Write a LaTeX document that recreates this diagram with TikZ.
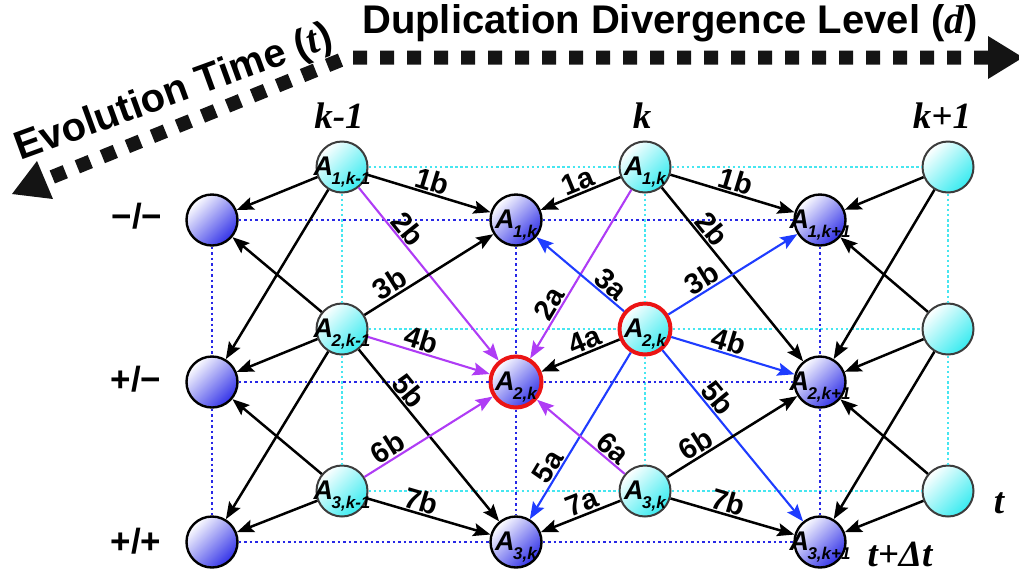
\documentclass[tikz,border=0pt]{standalone}
\usepackage{fontspec}
\setmainfont{Liberation Serif}
\setsansfont{Liberation Sans}
\usetikzlibrary{arrows.meta}
\definecolor{cyanend}{RGB}{55,235,240}
\definecolor{blueend}{RGB}{50,50,232}
\definecolor{cdotc}{RGB}{70,230,240}
\definecolor{bdotc}{RGB}{40,40,230}
\definecolor{purp}{RGB}{175,60,245}
\definecolor{eblue}{RGB}{30,60,255}
\definecolor{ringred}{RGB}{235,20,20}
\definecolor{cborder}{RGB}{60,60,60}
\newcommand{\Alab}[1]{{\sffamily\bfseries\itshape\fontsize{27}{27}\selectfont A\kern-1.5pt\raisebox{-9pt}{\fontsize{17}{17}\selectfont #1}}}
\begin{document}
\begin{tikzpicture}[x=1pt,y=-1pt,
  cnode/.style={circle, minimum size=51pt, inner sep=0pt, draw=cborder, line width=2pt,
     top color=white, bottom color=cyanend, shading angle=45},
  bnode/.style={circle, minimum size=51pt, inner sep=0pt, draw=black, line width=2.4pt,
     top color=white, bottom color=blueend, shading angle=45},
  redring/.style={draw=ringred, line width=4pt},
  alab/.style={anchor=base, inner sep=0pt},
  tip/.style={-{Stealth[length=17pt,width=13pt,inset=3pt]}},
  eb/.style={draw=black, line width=2.5pt, tip},
  ep/.style={draw=purp, line width=2.1pt, tip},
  ebl/.style={draw=eblue, line width=2.1pt, tip},
  lbl/.style={font=\sffamily\bfseries\fontsize{29}{29}\selectfont, sloped, above=0pt, inner sep=1pt},
  cdot/.style={draw=cdotc, line width=2.5pt, dash pattern=on 2.5pt off 2.6pt},
  bdot/.style={draw=bdotc, line width=2.7pt, dash pattern=on 2.7pt off 2.8pt},
  bigdash/.style={draw=black!92, line width=14pt, dash pattern=on 14pt off 13pt},
  collab/.style={anchor=base, inner sep=0pt, font=\rmfamily\bfseries\itshape\fontsize{37}{37}\selectfont},
  rowlab/.style={anchor=center, inner sep=0pt, font=\sffamily\bfseries\fontsize{35}{35}\selectfont},
  headlab/.style={anchor=base west, inner sep=0pt, font=\sffamily\bfseries\fontsize{40}{40}\selectfont}
]
\useasboundingbox (0,0) rectangle (1019,574);

% ---------- header arrows ----------
\coordinate (hc) at (347,57.5);
\coordinate (hr) at (988,57.5);
\coordinate (dl) at (46,179.5);
\draw[bigdash] (hr) -- (hc) -- (dl);
\coordinate (ha1) at (988,36);
\coordinate (ha2) at (1023,57.5);
\coordinate (ha3) at (988,79);
\fill[black!92] (ha1) -- (ha2) -- (ha3) -- cycle;
\coordinate (da1) at (37,161);
\coordinate (da2) at (12,194);
\coordinate (da3) at (53,199);
\fill[black!92] (da1) -- (da2) -- (da3) -- cycle;
\node[headlab] (hdd) at (362,33) {Duplication Divergence Level ({\rmfamily\itshape d})};
\node[headlab, rotate=20] (hdt) at (20,161) {Evolution Time ({\rmfamily\itshape t})};

% ---------- column / row / time labels ----------
\node[collab] (ckm) at (339,128) {k-1};
\node[collab] (ck) at (642,128) {k};
\node[collab] (ckp) at (942,128) {k+1};
\node[rowlab] (r0) at (137,216) {−/−};
\node[rowlab] (r1) at (136,379) {+/−};
\node[rowlab] (r2) at (136,541) {+/+};
\node[collab] (tt) at (999,513) {t};
\node[collab] (tdt) at (900,566) {t+Δt};

% ---------- nodes ----------
\node[cnode] (c00) at (342,167) {};
\node[cnode] (c01) at (342,329) {};
\node[cnode] (c02) at (342,491) {};
\node[cnode] (c10) at (645,167) {};
\node[cnode, redring] (c11) at (645,329) {};
\node[cnode] (c12) at (645,491) {};
\node[cnode] (c20) at (948,167) {};
\node[cnode] (c21) at (948,329) {};
\node[cnode] (c22) at (948,491) {};
\node[bnode] (b00) at (212,220) {};
\node[bnode] (b01) at (212,382) {};
\node[bnode] (b02) at (212,542) {};
\node[bnode] (b10) at (516,220) {};
\node[bnode, redring] (b11) at (516,382) {};
\node[bnode] (b12) at (516,542) {};
\node[bnode] (b20) at (820,220) {};
\node[bnode] (b21) at (820,382) {};
\node[bnode] (b22) at (820,542) {};

% ---------- dotted grid ----------
\draw[cdot] (c00) -- (c10) (c10) -- (c20);
\draw[cdot] (c01) -- (c11) (c11) -- (c21);
\draw[cdot] (c02) -- (c12) (c12) -- (c22);
\draw[cdot] (c00) -- (c01) (c01) -- (c02);
\draw[cdot] (c10) -- (c11) (c11) -- (c12);
\draw[cdot] (c20) -- (c21) (c21) -- (c22);
\draw[bdot] (b00) -- (b10) (b10) -- (b20);
\draw[bdot] (b01) -- (b11) (b11) -- (b21);
\draw[bdot] (b02) -- (b12) (b12) -- (b22);
\draw[bdot] (b00) -- (b01) (b01) -- (b02);
\draw[bdot] (b10) -- (b11) (b11) -- (b12);
\draw[bdot] (b20) -- (b21) (b21) -- (b22);

% ---------- edges: column k-1 to outer left ----------
\draw[eb] (c00) -- (b00);
\draw[eb] (c00) -- (b01);
\draw[eb] (c01) -- (b00);
\draw[eb] (c01) -- (b01);
\draw[eb] (c01) -- (b02);
\draw[eb] (c02) -- (b01);
\draw[eb] (c02) -- (b02);

% ---------- edges: column k-1 to k ----------
\draw[eb] (c00) -- node[lbl, pos=0.5] {1b} (b10);
\draw[ep] (c00) -- node[lbl, pos=0.285] {2b} (b11);
\draw[eb] (c01) -- node[lbl, pos=0.25] {3b} (b10);
\draw[ep] (c01) -- node[lbl, pos=0.41] {4b} (b11);
\draw[eb] (c01) -- node[lbl, pos=0.287] {5b} (b12);
\draw[ep] (c02) -- node[lbl, pos=0.23] {6b} (b11);
\draw[eb] (c02) -- node[lbl, pos=0.41] {7b} (b12);

% ---------- edges: column k to k ----------
\draw[eb] (c10) -- node[lbl, pos=0.48] {1a} (b10);
\draw[ep] (c10) -- node[lbl, pos=0.71] {2a} (b11);
\draw[ebl] (c11) -- node[lbl, pos=0.24] {3a} (b10);
\draw[eb] (c11) -- node[lbl, pos=0.385] {4a} (b11);
\draw[ebl] (c11) -- node[lbl, pos=0.72] {5a} (b12);
\draw[ep] (c12) -- node[lbl, pos=0.22] {6a} (b11);
\draw[eb] (c12) -- node[lbl, pos=0.425] {7a} (b12);

% ---------- edges: column k to k+1 ----------
\draw[eb] (c10) -- node[lbl, pos=0.5] {1b} (b20);
\draw[eb] (c10) -- node[lbl, pos=0.284] {2b} (b21);
\draw[ebl] (c11) -- node[lbl, pos=0.31] {3b} (b20);
\draw[ebl] (c11) -- node[lbl, pos=0.44] {4b} (b21);
\draw[ebl] (c11) -- node[lbl, pos=0.325] {5b} (b22);
\draw[eb] (c12) -- node[lbl, pos=0.27] {6b} (b21);
\draw[eb] (c12) -- node[lbl, pos=0.44] {7b} (b22);

% ---------- edges: column k+1 ----------
\draw[eb] (c20) -- (b20);
\draw[eb] (c20) -- (b21);
\draw[eb] (c21) -- (b20);
\draw[eb] (c21) -- (b21);
\draw[eb] (c21) -- (b22);
\draw[eb] (c22) -- (b21);
\draw[eb] (c22) -- (b22);

% ---------- node labels ----------
\node[alab] (l00) at (342,175) {\Alab{1,k-1}};
\node[alab] (l01) at (342,337) {\Alab{2,k-1}};
\node[alab] (l02) at (342,499) {\Alab{3,k-1}};
\node[alab] (l10) at (645,175) {\Alab{1,k}};
\node[alab] (l11) at (645,337) {\Alab{2,k}};
\node[alab] (l12) at (645,499) {\Alab{3,k}};
\node[alab] (m10) at (516,228) {\Alab{1,k}};
\node[alab] (m11) at (516,390) {\Alab{2,k}};
\node[alab] (m12) at (516,550) {\Alab{3,k}};
\node[alab] (m20) at (820,228) {\Alab{1,k+1}};
\node[alab] (m21) at (820,390) {\Alab{2,k+1}};
\node[alab] (m22) at (820,550) {\Alab{3,k+1}};
\end{tikzpicture}
\end{document}
